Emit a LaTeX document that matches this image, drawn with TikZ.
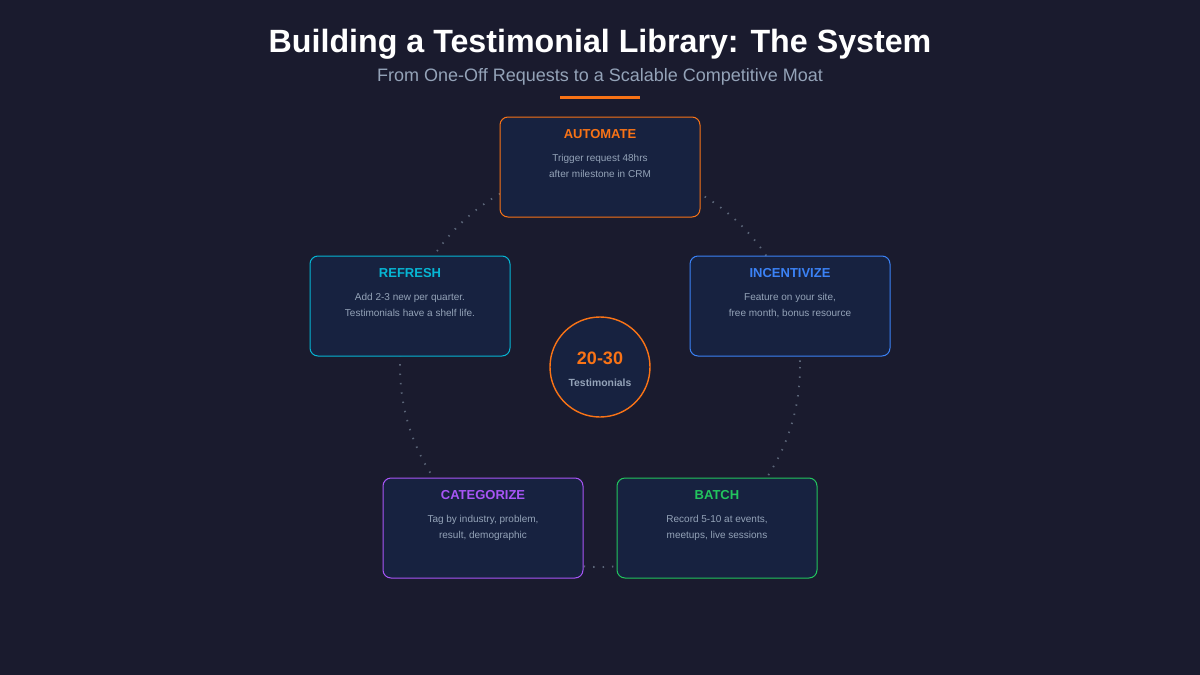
\documentclass[tikz,border=0pt]{standalone}
\usepackage{fontspec}
\setmainfont{Liberation Sans}
\usetikzlibrary{positioning}
\definecolor{bgc}{HTML}{1A1B2E}
\definecolor{boxc}{HTML}{172240}
\definecolor{orng}{HTML}{F97316}
\definecolor{cyn}{HTML}{06B6D4}
\definecolor{blu}{HTML}{3B82F6}
\definecolor{grn}{HTML}{22C55E}
\definecolor{prp}{HTML}{A855F7}
\definecolor{txtc}{HTML}{94A3B8}
\definecolor{dotc}{HTML}{5B6578}
\tikzset{
  stagebox/.style={draw=#1, fill=boxc, rounded corners=4pt, line width=0.5pt,
    minimum width=100pt, minimum height=50pt},
  stagetitle/.style={font=\bfseries\fontsize{6.5}{8}\selectfont, text=#1},
  stagebody/.style={font=\fontsize{5}{8}\selectfont, text=txtc, align=center}
}
\newcommand{\stage}[6]{
  % #1 = name, #2 = x, #3 = y, #4 = color, #5 = title, #6 = body
  \node[stagebox=#4] (#1) at (#2,#3) {};
  \node[stagetitle=#4, below=3pt of #1.north] (#1t) {#5};
  \node[stagebody, below=0.5pt of #1t] (#1b) {#6};
}
\begin{document}
\begin{tikzpicture}[x=0.5pt, y=-0.5pt]
\fill[bgc] (0,0) rectangle (1200,675);
\useasboundingbox (0,0) rectangle (1200,675);

% title
\node[text=white, font=\bfseries\fontsize{16.1}{18}\selectfont] (title) at (600,44) {Building a Testimonial Library: The System};
\node[text=txtc, font=\fontsize{9}{10}\selectfont] (subtitle) at (600,77) {From One-Off Requests to a Scalable Competitive Moat};
\draw[orng, line width=1.5pt] (560,97) -- (640,97);

% dotted cycle behind the boxes
\draw[dotc, line width=0.9pt, dash pattern=on 0.7pt off 4pt] (600,367) circle (200);

\stage{automate}{600}{167}{orng}{AUTOMATE}{Trigger request 48hrs\\after milestone in CRM}
\stage{incent}{790}{306}{blu}{INCENTIVIZE}{Feature on your site,\\free month, bonus resource}
\stage{batch}{717}{528}{grn}{BATCH}{Record 5-10 at events,\\meetups, live sessions}
\stage{categ}{483}{528}{prp}{CATEGORIZE}{Tag by industry, problem,\\result, demographic}
\stage{refresh}{410}{306}{cyn}{REFRESH}{Add 2-3 new per quarter.\\Testimonials have a shelf life.}

% center hub
\node[circle, draw=orng, fill=boxc, line width=0.7pt, minimum size=50pt] (hub) at (600,367) {};
\node[text=orng, font=\bfseries\fontsize{9}{10}\selectfont] (hubn) at (600,358) {20-30};
\node[text=txtc, font=\bfseries\fontsize{5.2}{6}\selectfont] (hubl) at (600,383) {Testimonials};
\end{tikzpicture}
\end{document}
